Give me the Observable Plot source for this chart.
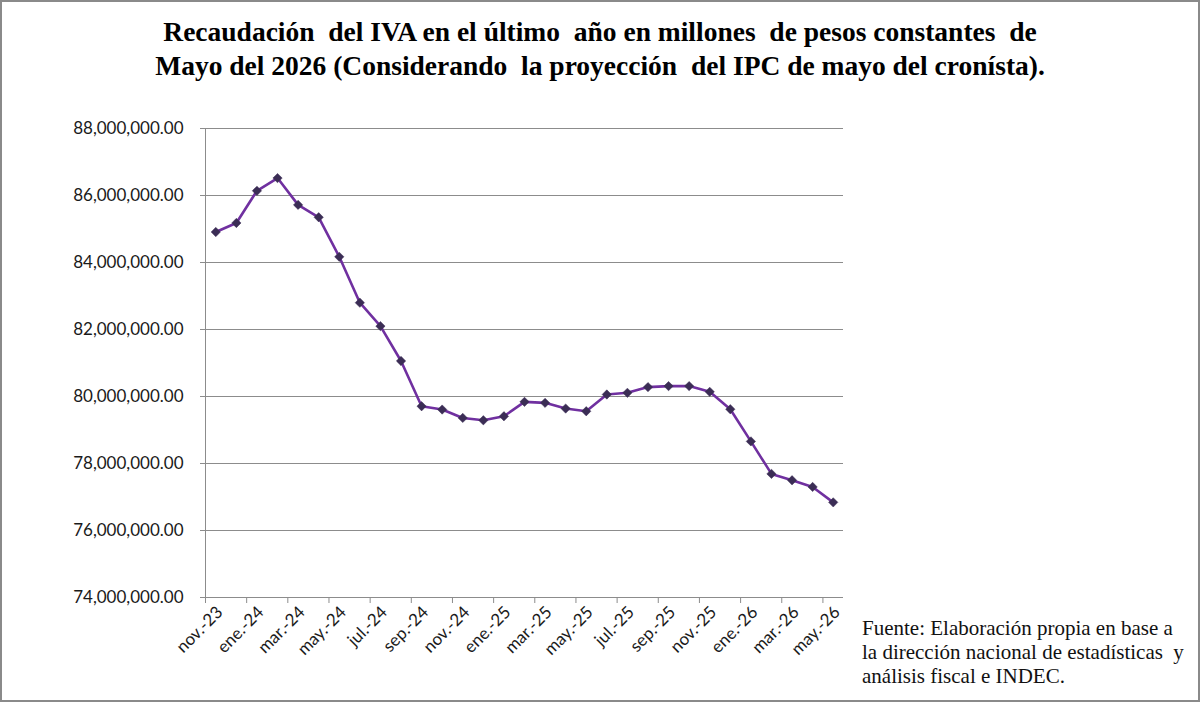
<!DOCTYPE html>
<html>
<head>
<meta charset="utf-8">
<script src="https://cdn.jsdelivr.net/npm/d3@7"></script>
<script src="https://cdn.jsdelivr.net/npm/@observablehq/plot@0.6"></script>
<style>
  html, body { margin: 0; padding: 0; background: #fff; }
  #page { position: relative; width: 1200px; height: 702px; background: #fff; overflow: hidden; }
  #title {
    position: absolute; left: 0; top: 15px; width: 1200px; text-align: center;
    font-family: "Liberation Serif", "Times New Roman", serif; font-weight: bold;
    font-size: 27.5px; line-height: 34px; color: #000; white-space: pre;
  }
  #chart { position: absolute; left: 0; top: 100px; }
  #note {
    position: absolute; left: 862px; top: 616px;
    font-family: "Liberation Serif", "Times New Roman", serif;
    font-size: 21px; line-height: 24px; color: #111; white-space: pre;
  }
  #frame { position: absolute; left: 0; top: 0; right: 0; bottom: 0; border: 2px solid #8a8a8a; pointer-events: none; }
</style>
</head>
<body>
<div id="page">
  <div id="title"></div>
  <div id="chart"></div>
  <div id="note"></div>
  <div id="frame"></div>
</div>
<script>
// Monthly VAT collection, millions of constant May-2026 pesos
const months = [
  "nov.-23", "dic.-23",
  "ene.-24", "feb.-24", "mar.-24", "abr.-24", "may.-24", "jun.-24",
  "jul.-24", "ago.-24", "sep.-24", "oct.-24", "nov.-24", "dic.-24",
  "ene.-25", "feb.-25", "mar.-25", "abr.-25", "may.-25", "jun.-25",
  "jul.-25", "ago.-25", "sep.-25", "oct.-25", "nov.-25", "dic.-25",
  "ene.-26", "feb.-26", "mar.-26", "abr.-26", "may.-26"
];
const recaudacion = [
  84910000, 85180000,
  86140000, 86520000, 85720000, 85350000, 84170000, 82800000,
  82100000, 81060000, 79710000, 79610000, 79360000, 79290000,
  79410000, 79840000, 79810000, 79640000, 79560000, 80060000,
  80110000, 80280000, 80310000, 80310000, 80140000, 79620000,
  78660000, 77690000, 77500000, 77300000, 76840000
];
const yTicks = [74000000, 76000000, 78000000, 80000000, 82000000, 84000000, 86000000, 88000000];

const titleLines = [
  "Recaudación  del IVA en el último  año en millones  de pesos constantes  de",
  "Mayo del 2026 (Considerando  la proyección  del IPC de mayo del cronísta)."
];
const noteLines = [
  "Fuente: Elaboración propia en base a",
  "la dirección nacional de estadísticas  y",
  "análisis fiscal e INDEC."
];

document.getElementById("title").textContent = titleLines.join("\n");
document.getElementById("note").textContent = noteLines.join("\n");

const data = months.map((m, i) => ({i, mes: m, valor: recaudacion[i]}));
const labelIdx = d3.range(0, months.length, 2);          // every other month is labelled
const tickPos = labelIdx.map(i => i - 0.5);              // ticks sit on category boundaries
const n = months.length;

const grid = "#8c8c8c";
const font = "Lato, 'Open Sans', sans-serif";

const chart = Plot.plot({
  width: 1200,
  height: 602,
  marginLeft: 205,
  marginRight: 357,
  marginTop: 28,
  marginBottom: 105,
  style: {fontFamily: font, fontSize: "17px", color: "#1a1a1a", background: "transparent"},
  x: {type: "linear", domain: [-0.5, n - 0.5], axis: null},
  y: {domain: [74000000, 88000000], axis: null},
  marks: [
    Plot.gridY(yTicks, {stroke: grid, strokeOpacity: 1, strokeWidth: 1}),
    Plot.ruleX([-0.5], {stroke: grid, strokeWidth: 1}),
    Plot.ruleY([74000000], {stroke: grid, strokeWidth: 1}),
    Plot.axisY(yTicks, {
      tickSize: 5, tickPadding: 17, stroke: grid, fontSize: 17, label: null,
      tickFormat: d3.format(",.2f"), fill: "#1a1a1a"
    }),
    Plot.axisX(tickPos, {tickSize: 6, stroke: grid, tickFormat: () => "", label: null, anchor: "bottom"}),
    Plot.text(labelIdx, {
      x: d => d, y: () => 74000000, text: d => months[d],
      rotate: -45, textAnchor: "end", lineAnchor: "middle",
      dx: 4, dy: 12, fontSize: 17, fill: "#1a1a1a"
    }),
    Plot.line(data, {x: "i", y: "valor", stroke: "#7030a0", strokeWidth: 2.6}),
    Plot.dot(data, {x: "i", y: "valor", symbol: "diamond2", r: 4.2, fill: "#3b2d55", stroke: "#3b2d55", strokeWidth: 0.5})
  ]
});
document.getElementById("chart").appendChild(chart);
</script>
</body>
</html>
